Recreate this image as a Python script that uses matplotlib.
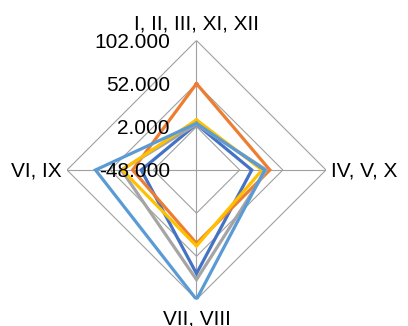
import matplotlib.pyplot as plt
import numpy as np

# Categories, clockwise from the top
categories = ['I, II, III, XI, XII', 'IV, V, X', 'VII, VIII', 'VI, IX']

# Series values (one per category, same order)
s_blue = [5, 16, 72, 16]
s_orange = [52, 37, 37, 26]
s_gray = [5, 33, 79, 39]
s_yellow = [10, 28, 40, 38]
s_lightblue = [6, 31, 102, 69]

series = [s_blue, s_orange, s_gray, s_yellow, s_lightblue]
colors = ['#4472C4', '#ED7D31', '#A5A5A5', '#FFC000', '#5B9BD5']

# Radial scale
r_levels = [-48, 2, 52, 102]
r_labels = ['-48.000', '2.000', '52.000', '102.000']

plt.rcParams['font.family'] = ['Liberation Sans', 'DejaVu Sans']

fig = plt.figure(figsize=(4.08, 3.26), dpi=100)
ax = fig.add_axes([0.1642, 0.0813, 0.6348, 0.7945], projection='polar')
ax.set_theta_zero_location('N')
ax.set_theta_direction(-1)
ax.set_ylim(r_levels[0], r_levels[-1])
ax.grid(False)
ax.set_xticks([])
ax.set_yticks([])
ax.spines['polar'].set_visible(False)

theta = np.arange(len(categories)) * 2 * np.pi / len(categories)
theta_closed = np.append(theta, theta[0])

grid_col = '#A0A0A0'
# diamond rings
for lev in r_levels[1:]:
    ax.plot(theta_closed, [lev] * len(theta_closed), color=grid_col, lw=0.8, zorder=1)
# spokes
for t in theta:
    ax.plot([t, t], [r_levels[0], r_levels[-1]], color=grid_col, lw=0.8, zorder=1)

# data lines
for vals, c in zip(series, colors):
    ax.plot(theta_closed, vals + vals[:1], color=c, lw=2.3, zorder=3,
            solid_joinstyle='miter')

# radial tick labels
for lev, lab in zip(r_levels, r_labels):
    ax.annotate(lab, xy=(0, lev), xytext=(-26.5, -7.3), textcoords='offset pixels',
                ha='right', va='baseline', fontsize=15, annotation_clip=False, zorder=4)

# category labels
offsets = [(0, 11), (5, -6.7), (0, -25), (-5, -6.7)]
aligns = ['center', 'left', 'center', 'right']
for t, lab, off, ha in zip(theta, categories, offsets, aligns):
    ax.annotate(lab, xy=(t, r_levels[-1]), xytext=off, textcoords='offset pixels',
                ha=ha, va='baseline', fontsize=15, annotation_clip=False)

fig.savefig('out.png', dpi=100)
